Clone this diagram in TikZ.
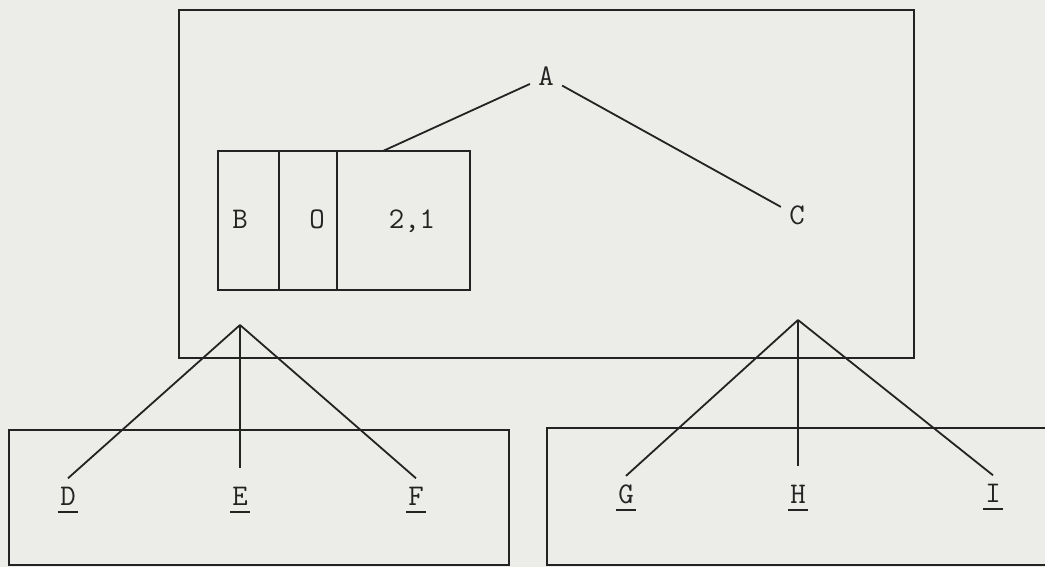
\documentclass[tikz,border=0pt]{standalone}
\usepackage{fontspec}
\usetikzlibrary{positioning}

\definecolor{tinta}{RGB}{35,35,35}
\definecolor{papir}{RGB}{236,236,233}

% Aláhúzott betű (vastag vonal a betű alatt)
\newcommand{\alahuz}[1]{\setbox0\hbox{#1}\rlap{\kern-1pt\rule[-4pt]{\dimexpr\wd0+2pt\relax}{0.9pt}}\box0}

\begin{document}
\begin{tikzpicture}[
    % Stílusok: keretek, cellák, ágak és feliratok
    keret/.style={draw=tinta, line width=0.9pt},
    cella/.style={draw=tinta, line width=0.9pt, minimum height=69.5pt,
        inner sep=0pt, outer sep=0pt, anchor=north west},
    ag/.style={draw=tinta, line width=0.9pt},
    betu/.style={font=\ttfamily\fontsize{15}{17}\selectfont, text=tinta,
        inner sep=4pt, anchor=base}
,x=0.5pt, y=-0.5pt]

    % Háttér és a kép mérete
    \fill[papir] (0,0) rectangle (1045,567);
    \useasboundingbox (0,0) rectangle (1045,567);

    % Keretek: fent a nagy, lent a két kisebb
    \draw[keret] (179,10) rectangle (914,358);
    \draw[keret] (9,430) rectangle (509,565);
    \draw[keret] (547,428) rectangle (1060,565);

    % A háromrészes rekord
    \node[cella, minimum width=30.5pt] (cellB) at (218,151) {};
    \node[cella, minimum width=29pt, right=0pt of cellB] (cellO) {};
    \node[cella, minimum width=66.5pt, right=0pt of cellO] (cellN) {};
    \node[betu] (B) at (240,228) {B};
    \node[betu] (O) at (317,228) {O};
    \node[betu] (N) at (412,228) {2,1};

    % Felső csúcsok
    \node[betu] (A) at (546,86) {A};
    \node[betu] (C) at (797,225) {C};
    \draw[ag] (A) -- ([xshift=23pt]cellN.north west);
    \draw[ag] (A) -- (C);

    % Elágazási pontok
    \coordinate (villaB) at (240,325);
    \coordinate (villaC) at (798,320);

    % Alsó, aláhúzott levelek
    \node[betu] (D) at (68,505) {\alahuz{D}};
    \node[betu] (E) at (240,505) {\alahuz{E}};
    \node[betu] (F) at (416,505) {\alahuz{F}};
    \node[betu] (G) at (626,503) {\alahuz{G}};
    \node[betu] (H) at (798,503) {\alahuz{H}};
    \node[betu] (I) at (993,502) {\alahuz{I}};

    % Ágak a levelekhez
    \draw[ag] (villaB) -- (D.north);
    \draw[ag] (villaB) -- ([yshift=5pt]E.north);
    \draw[ag] (villaB) -- (F.north);
    \draw[ag] (villaC) -- (G.north);
    \draw[ag] (villaC) -- ([yshift=5pt]H.north);
    \draw[ag] (villaC) -- (I.north);
\end{tikzpicture}
\end{document}
